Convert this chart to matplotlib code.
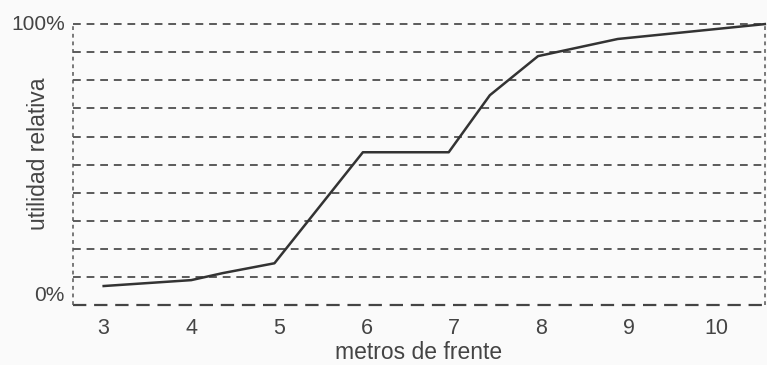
import numpy as np
import matplotlib.pyplot as plt

plt.rcParams['font.family'] = ['Liberation Sans', 'DejaVu Sans']

# curve (metros de frente vs utilidad relativa)
metros = [3.0, 4.0, 4.36, 4.95, 5.96, 6.94, 7.41, 7.96, 8.87, 10.55]
utilidad = [0.068, 0.089, 0.114, 0.149, 0.544, 0.544, 0.747, 0.886, 0.947, 1.0]

x_ticks = [3, 4, 5, 6, 7, 8, 9, 10]
grid_levels = [0.1, 0.2, 0.3, 0.4, 0.5, 0.6, 0.7, 0.8, 0.9, 1.0]

txt = '#444444'
bg = '#fafafa'

fig = plt.figure(figsize=(7.67, 3.65), dpi=100, facecolor=bg)
ax = fig.add_axes([0.0952, 0.164, 0.902, 0.770], facecolor=bg)

ax.set_xlim(2.65, 10.55)
ax.set_ylim(0, 1)

# dashed horizontal guides
for g in grid_levels:
    ax.axhline(g, color='#5a5a5a', lw=1.4, dashes=(4, 3), zorder=1, clip_on=False)

ax.plot(metros, utilidad, color='#333333', lw=1.8, zorder=3, clip_on=False)

for s in ax.spines.values():
    s.set_visible(False)
ax.axhline(0, color='#444444', lw=1.6, dashes=(6, 3.5), zorder=2, clip_on=False)
ax.axvline(2.65, color='#555555', lw=1.1, dashes=(2.5, 2.5), zorder=2, clip_on=False)
ax.axvline(10.55, color='#555555', lw=1.1, dashes=(2.5, 2.5), zorder=2, clip_on=False)

ax.set_xticks(x_ticks)
ax.set_xticklabels([str(t) for t in x_ticks], fontsize=15.5, color=txt)
ax.tick_params(axis='x', length=0, pad=9)
ax.set_yticks([])

ax.text(-0.012, 1.0, '100%', transform=ax.transAxes, ha='right', va='center',
        fontsize=15, color=txt)
ax.text(-0.012, 0.035, '0%', transform=ax.transAxes, ha='right', va='center',
        fontsize=15, color=txt)

ax.set_xlabel('metros de frente', fontsize=16.5, color=txt, labelpad=2)
fig.text(0.050, 0.58, 'utilidad relativa', rotation=90, ha='center', va='center',
         fontsize=16.5, color=txt)

fig.savefig('out.png', dpi=100, facecolor=bg)
